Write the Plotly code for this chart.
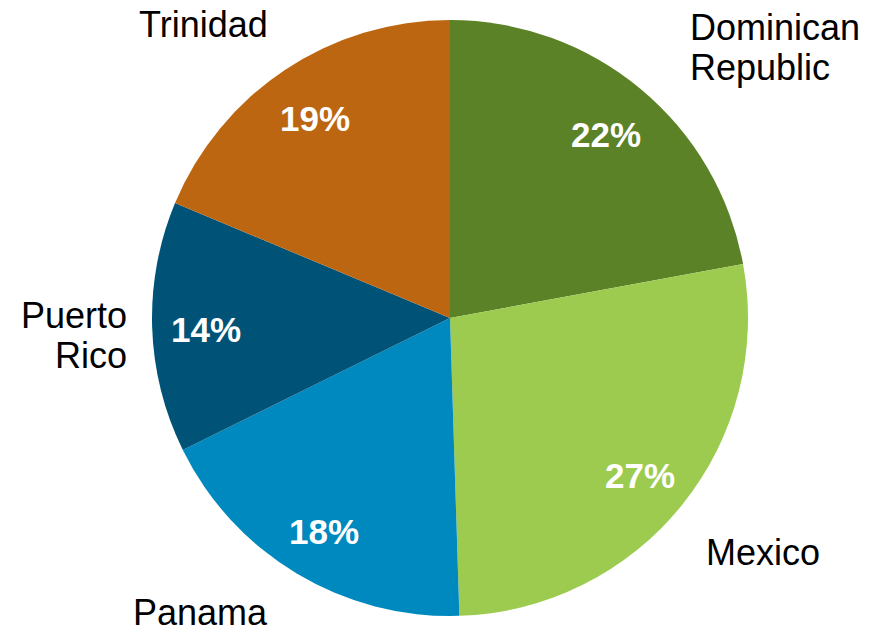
import math
import plotly.graph_objects as go

categories = ["Dominican Republic", "Mexico", "Panama", "Puerto Rico", "Trinidad"]
values = [22.1, 27.4, 18.2, 13.6, 18.7]
colors = ["#5B8226", "#9DCB50", "#0089BE", "#005376", "#BD6611"]

W, H = 881, 632
CX, CY, R = 450, 318, 298  # pie centre / radius in pixels

fig = go.Figure()
fig.add_trace(go.Pie(
    labels=categories,
    values=values,
    marker=dict(colors=colors, line=dict(width=0)),
    sort=False,
    direction="clockwise",
    rotation=0,
    textinfo="none",
    hoverinfo="label+percent",
    showlegend=False,
    domain=dict(x=[(CX - R) / W, (CX + R) / W], y=[(H - CY - R) / H, (H - CY + R) / H]),
))

# percent labels placed along each slice's mid-angle
total = sum(values)
annotations = []
cum = 0.0
for v in values:
    mid = (cum + v / 2) / total * 2 * math.pi
    cum += v
    px = CX + 0.82 * R * math.sin(mid)
    py = CY - 0.82 * R * math.cos(mid) + 4
    annotations.append(dict(
        x=px / W, y=1 - py / H, xref="paper", yref="paper",
        text=f"{round(v / total * 100)}%", showarrow=False,
        xanchor="center", yanchor="middle",
        font=dict(family="Liberation Sans, Arial", size=35, color="white", weight="bold"),
    ))

# category name labels (outside)
name_labels = [
    ("Dominican", 688, 27, "left"),
    ("Republic", 688, 67, "left"),
    ("Mexico", 763, 552, "center"),
    ("Panama", 200, 612, "center"),
    ("Puerto", 129, 315, "right"),
    ("Rico", 129, 355, "right"),
    ("Trinidad", 203, 25, "center"),
]
for txt, x, y, anc in name_labels:
    annotations.append(dict(
        x=x / W, y=1 - y / H, xref="paper", yref="paper",
        text=txt, showarrow=False, xanchor=anc, yanchor="middle",
        font=dict(family="Liberation Sans, Arial", size=36, color="black"),
    ))

fig.update_layout(
    width=W, height=H,
    margin=dict(l=0, r=0, t=0, b=0),
    paper_bgcolor="white",
    plot_bgcolor="white",
    annotations=annotations,
)

fig.write_html(
    "out.html",
    config={"displayModeBar": False},
    post_script="document.body.style.margin='0';document.body.style.overflow='hidden';",
)
